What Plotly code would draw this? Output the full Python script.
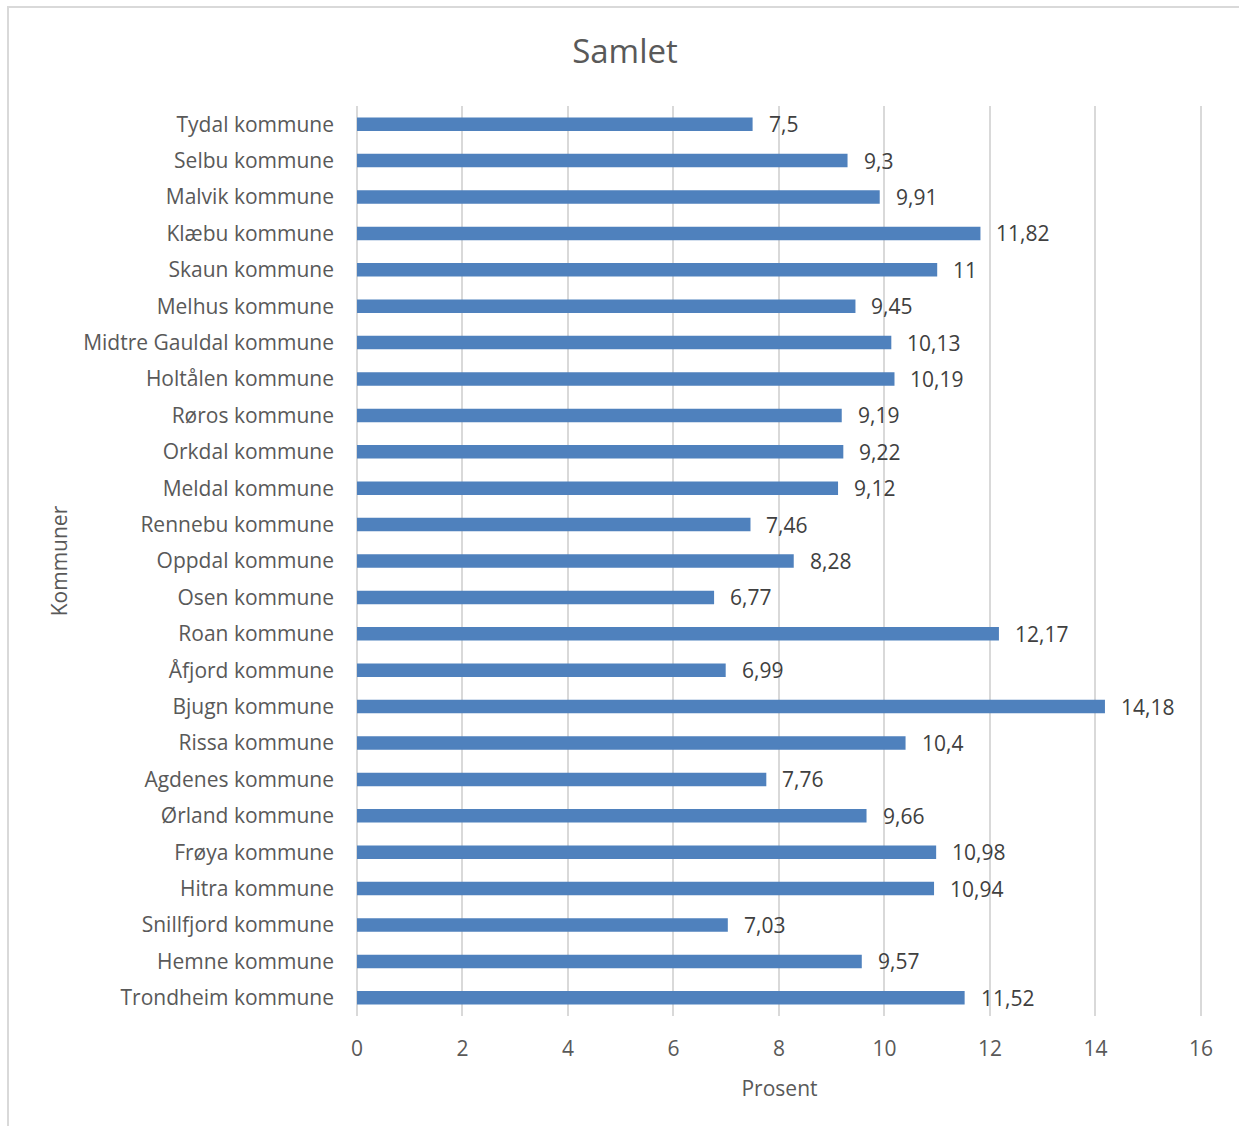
import plotly.graph_objects as go

kommuner = [
    "Tydal kommune", "Selbu kommune", "Malvik kommune", "Klæbu kommune",
    "Skaun kommune", "Melhus kommune", "Midtre Gauldal kommune", "Holtålen kommune",
    "Røros kommune", "Orkdal kommune", "Meldal kommune", "Rennebu kommune",
    "Oppdal kommune", "Osen kommune", "Roan kommune", "Åfjord kommune",
    "Bjugn kommune", "Rissa kommune", "Agdenes kommune", "Ørland kommune",
    "Frøya kommune", "Hitra kommune", "Snillfjord kommune", "Hemne kommune",
    "Trondheim kommune",
]
prosent = [
    7.5, 9.3, 9.91, 11.82, 11, 9.45, 10.13, 10.19, 9.19, 9.22, 9.12, 7.46,
    8.28, 6.77, 12.17, 6.99, 14.18, 10.4, 7.76, 9.66, 10.98, 10.94, 7.03,
    9.57, 11.52,
]
x_ticks = [0, 2, 4, 6, 8, 10, 12, 14, 16]

labels = [f"{v:g}".replace(".", ",") for v in prosent]

FONT = "Open Sans"
GRAY = "#595959"

fig = go.Figure()
fig.add_trace(go.Bar(
    x=prosent, y=kommuner, orientation="h",
    marker=dict(color="#4F81BD", line=dict(width=0)),
    hoverinfo="x+y",
))

annotations = [
    dict(x=v, y=k, text=t, xanchor="left", yanchor="middle", xshift=14,
         showarrow=False, font=dict(family=FONT, size=21, color="#404040"))
    for v, k, t in zip(prosent, kommuner, labels)
]

fig.update_layout(
    width=1239, height=1126,
    margin=dict(l=357, r=37, t=106, b=110),
    paper_bgcolor="white", plot_bgcolor="white",
    bargap=0.63,
    showlegend=False,
    title=dict(text="Samlet", x=625 / 1239, xanchor="center", y=1 - 51 / 1126,
               yanchor="middle", font=dict(family=FONT, size=33, color=GRAY)),
    font=dict(family=FONT, size=21, color=GRAY),
    annotations=annotations,
    shapes=[dict(type="rect", xref="paper", yref="paper",
                 x0=(8 - 357) / 845, x1=1.2, y0=-0.3, y1=1 + (106 - 7) / 910,
                 line=dict(color="#D9D9D9", width=2), layer="below")],
)

fig.update_xaxes(
    range=[0, 16.02], tickvals=x_ticks, ticktext=[str(t) for t in x_ticks],
    showgrid=True, gridcolor="#D9D9D9", gridwidth=1.5,
    zeroline=True, zerolinecolor="#D9D9D9", zerolinewidth=1.5,
    showline=False, ticks="", ticklabelstandoff=18,
    tickfont=dict(family=FONT, size=21, color=GRAY),
    title=dict(text="Prosent", standoff=20, font=dict(family=FONT, size=21, color=GRAY)),
    fixedrange=True,
)
fig.update_yaxes(
    categoryorder="array", categoryarray=kommuner, autorange="reversed",
    showgrid=False, showline=False, ticks="", ticklabelstandoff=22,
    tickfont=dict(family=FONT, size=21, color=GRAY),
    title=dict(text="Kommuner", standoff=9, font=dict(family=FONT, size=21, color=GRAY)),
    fixedrange=True,
)

fig.write_html("out.html")
